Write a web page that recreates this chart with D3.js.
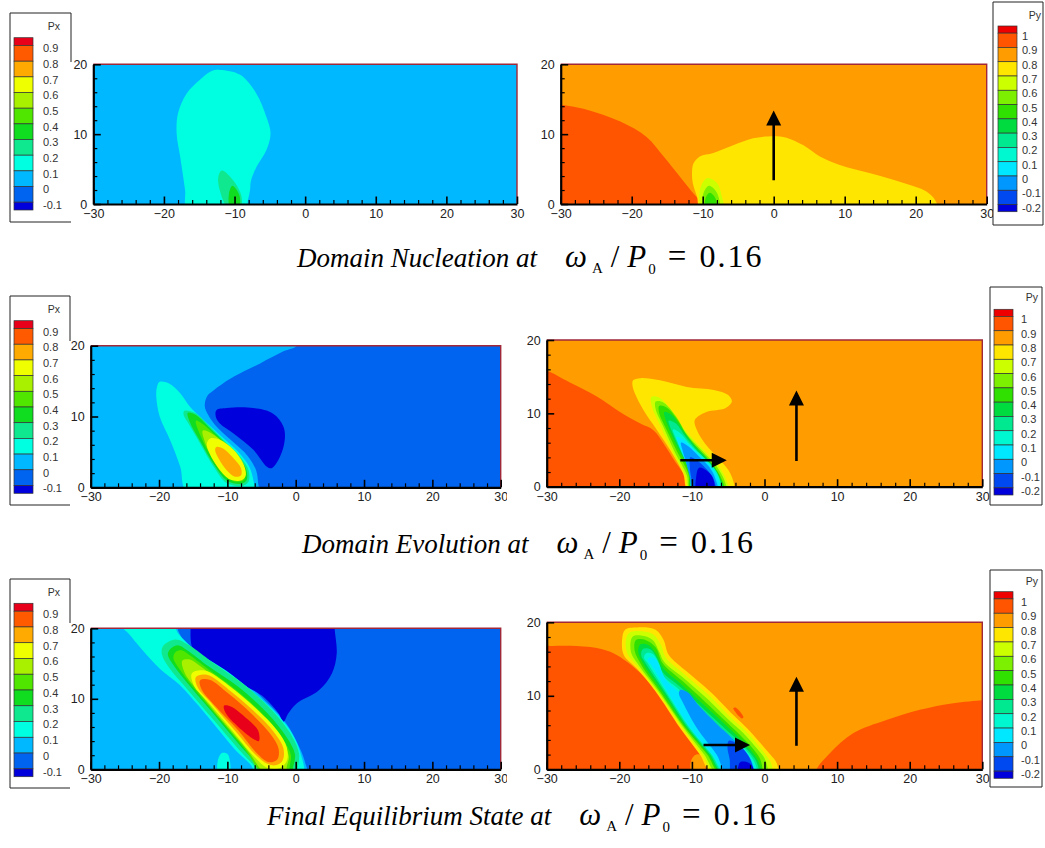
<!DOCTYPE html>
<html>
<head>
<meta charset="utf-8">
<script src="https://cdn.jsdelivr.net/npm/d3@7"></script>
<style>
  body { margin: 0; background: #fff; }
  text { font-family: "Liberation Sans", Arial, sans-serif; }
</style>
</head>
<body>
<svg id="fig" width="1045" height="848"></svg>
<script>
// ---- contour levels and colour tables (read from the two legends) ----
const pxLevels = [-0.1, 0, 0.1, 0.2, 0.3, 0.4, 0.5, 0.6, 0.7, 0.8, 0.9];
const pxColors = ["#0000dc", "#0064f0", "#00b8ff", "#00ffe0", "#10e890", "#10dc20",
                  "#50e600", "#a8f000", "#f0ff00", "#ffaa00", "#ff5a00", "#e8001a"];
const pyLevels = [-0.2, -0.1, 0, 0.1, 0.2, 0.3, 0.4, 0.5, 0.6, 0.7, 0.8, 0.9, 1];
const pyColors = ["#0000dc", "#0048f0", "#0098ff", "#00e8ff", "#00f8d0", "#00e890", "#00dc40",
                  "#30e000", "#7cf000", "#ccff00", "#ffe600", "#ff9c00", "#ff5500", "#ee0000"];

const xTicks = [-30, -20, -10, 0, 10, 20, 30];
const yTicks = [0, 10, 20];

// ---- contour regions: value inside + outline in data units (x, y) ----
// Domain nucleation, Px
const nucPxBase = 0.05;
const nucPxRegions = [
  {v: 0.15, pts: [[-12.1,19.2],[-9.2,18.5],[-6.9,15.8],[-5.5,12.5],[-4.9,10.1],[-5.5,7.7],[-6.9,5.3],[-7.7,3.2],[-7.8,2.0],[-8.1,0.6],[-8.4,-0.6],[-16.7,-0.6],[-17.0,2.0],[-17.7,6.8],[-18.2,10.1],[-18.0,13.0],[-16.8,15.8],[-14.9,17.8],[-13.3,19.0]]},
  {v: 0.25, pts: [[-11.8,4.8],[-10.2,3.4],[-9.0,1.05],[-9.2,-0.6],[-10.9,-0.6],[-12.1,2.0],[-12.3,3.9]]},
  {v: 0.35, pts: [[-10.3,2.6],[-9.3,1.2],[-9.4,-0.5],[-10.6,-0.5],[-10.8,1.4]]}
];
// Domain nucleation, Py
const nucPyBase = 0.85;
const nucPyRegions = [
  {v: 0.95, pts: [[-31,14.3],[-30,14.2],[-26.3,13.5],[-21.6,11.8],[-17.9,9.6],[-15.5,6.8],[-13.2,3.9],[-11.3,1.5],[-10.1,0],[-10,-1],[-31,-1]]},
  {v: 0.75, pts: [[-11.3,5.8],[-10.4,6.8],[-8.5,7.3],[-5.7,8.4],[-2.9,9.4],[0,9.7],[1.8,9.5],[4.2,8.4],[6.5,6.8],[9.3,5.6],[13.6,4.4],[18.3,3.0],[21.5,1.8],[22.7,0.6],[23,-0.8],[-10.2,-0.8],[-10.8,1.05],[-11.4,3.0],[-11.5,4.6]]},
  {v: 0.65, pts: [[-9.4,3.7],[-8.0,3.0],[-7.3,1.05],[-7.1,-0.5],[-10.1,-0.5],[-10.4,2.0]]},
  {v: 0.55, pts: [[-9.1,2.6],[-8.0,1.6],[-7.7,-0.5],[-9.8,-0.5],[-9.9,1.5]]},
  {v: 0.45, pts: [[-9.0,1.6],[-8.2,0.8],[-8.1,-0.5],[-9.6,-0.5],[-9.6,0.8]]}
];
const nucPyArrows = [{from: [0, 3.4], to: [0, 13.4]}];

// Domain evolution, Px
const evoPxBase = -0.05;
const evoPxRegions = [
  {v: 0.05, pts: [[-31,21],[0.15,21],[0.15,20],[-1.8,19.2],[-5.2,17.5],[-9.1,15.6],[-12.0,13.7],[-13.0,12.8],[-13.3,11.4],[-12.8,10.2],[-11.8,8.8],[-9.4,6.6],[-7.0,4.4],[-5.8,2.4],[-5.5,0.6],[-5.5,-1],[-31,-1]]},
  {v: -0.15, pts: [[-11.6,10.9],[-10.1,11.2],[-6.2,11.2],[-3.3,10.4],[-1.8,8.6],[-1.6,6.7],[-2.3,4.3],[-3.5,2.7],[-4.2,2.9],[-6.2,5.3],[-9.1,7.6],[-11.1,9.0],[-11.7,10.0]]},
  {v: 0.15, pts: [[-19.9,14.9],[-18.6,14.7],[-16.9,13.3],[-15.5,11.4],[-13.5,9.5],[-11.1,7.4],[-8.4,5.0],[-6.8,2.9],[-6.2,1.0],[-6.1,-0.6],[-15.9,-0.6],[-16.9,2.9],[-18.4,6.7],[-19.9,10.0],[-20.4,12.8],[-20.3,14.2]]},
  {v: 0.25, pts: [[-16.3,10.8],[-14.7,10.5],[-13.0,9.0],[-10.6,6.7],[-8.1,4.3],[-6.9,2.4],[-6.9,0.8],[-7.9,0.2],[-10.1,0.6],[-12.0,2.9],[-14.0,6.2],[-15.7,9.0],[-16.4,10.2]]},
  {v: 0.35, pts: [[-15.8,10.5],[-14.6,10.2],[-12.9,8.7],[-10.6,6.5],[-8.3,4.2],[-7.2,2.4],[-7.2,1.0],[-8.0,0.5],[-10.0,0.9],[-11.9,3.1],[-13.8,6.2],[-15.4,9.0]]},
  {v: 0.45, pts: [[-14.6,9.4],[-13.4,8.8],[-11.6,7.2],[-9.6,5.6],[-7.9,3.6],[-7.4,2.0],[-7.6,1.0],[-8.8,0.8],[-10.6,1.8],[-12.3,4.2],[-13.9,7.2]]},
  {v: 0.55, pts: [[-13.6,8.0],[-12.3,7.6],[-10.5,6.2],[-8.6,4.3],[-7.6,2.6],[-7.6,1.4],[-8.6,1.0],[-10.3,1.8],[-12.0,3.8],[-13.2,6.2]]},
  {v: 0.65, pts: [[-12.5,6.9],[-11.1,6.7],[-9.1,5.3],[-7.7,3.4],[-7.3,1.7],[-7.9,1.0],[-9.6,1.1],[-11.3,2.7],[-12.6,4.8],[-13.0,6.2]]},
  {v: 0.75, pts: [[-11.6,5.7],[-10.7,5.5],[-9.1,4.1],[-8.0,2.7],[-8.0,1.7],[-8.9,1.5],[-10.1,2.4],[-11.3,4.1],[-11.8,5.3]]}
];
// Domain evolution, Py
const evoPyBase = 0.85;
const evoPyRegions = [
  {v: 0.95, pts: [[-31,15.9],[-30,15.8],[-26.8,14.2],[-23.1,12.3],[-19.9,10.2],[-17.1,8.6],[-15.3,7.7],[-13.9,5.9],[-12.3,3.4],[-10.9,1.4],[-10.3,0],[-10.2,-1],[-31,-1]]},
  {v: 0.75, pts: [[-18.1,14.5],[-17.1,14.8],[-14.4,14.5],[-10.7,13.6],[-7.0,13.2],[-5.0,12.5],[-4.5,11.6],[-5.4,10.7],[-8.0,10.2],[-9.6,9.1],[-9.3,7.7],[-8.2,5.9],[-6.1,3.6],[-4.7,1.8],[-4.3,-0.6],[-10.5,-0.6],[-11.2,1.8],[-13.0,5.0],[-14.8,7.7],[-16.7,10.5],[-17.8,12.6],[-18.2,13.9]]},
  {v: 0.65, pts: [[-15.6,12.2],[-14.6,12.2],[-12.6,10.2],[-11.0,7.8],[-8.6,5.2],[-6.4,2.9],[-5.2,0.8],[-5.0,-0.6],[-10.3,-0.6],[-10.9,1.5],[-12.6,4.6],[-14.3,8.2],[-15.5,10.9]]},
  {v: 0.55, pts: [[-15.0,11.6],[-14.0,11.5],[-12.2,9.6],[-10.8,7.3],[-8.6,4.9],[-6.6,2.8],[-5.5,0.8],[-5.3,-0.6],[-10.2,-0.6],[-10.7,1.6],[-12.4,4.8],[-14.0,8.3],[-15.0,10.6]]},
  {v: 0.45, pts: [[-14.5,11.0],[-13.5,10.8],[-11.9,9.0],[-10.6,6.8],[-8.5,4.5],[-6.8,2.6],[-5.8,0.8],[-5.5,-0.6],[-10.1,-0.6],[-10.5,1.8],[-12.1,4.9],[-13.6,8.0],[-14.5,10.0]]},
  {v: 0.35, pts: [[-13.8,10.2],[-12.8,9.8],[-11.3,7.8],[-9.6,5.6],[-7.6,3.5],[-6.3,1.6],[-5.7,-0.6],[-10.0,-0.6],[-10.3,2.0],[-11.8,5.0],[-13.2,8.0]]},
  {v: 0.25, pts: [[-13.2,9.0],[-12.2,8.6],[-10.8,6.7],[-9.0,4.6],[-7.4,2.9],[-6.4,1.2],[-5.85,-0.6],[-9.95,-0.6],[-10.2,2.0],[-11.4,4.6],[-12.6,7.2]]},
  {v: 0.15, pts: [[-12.6,7.8],[-11.6,7.3],[-10.1,5.6],[-8.3,3.9],[-6.8,2.3],[-6.1,0.8],[-6.0,-0.6],[-9.9,-0.6],[-10.2,1.8],[-11.2,4.3],[-12.1,6.4]]},
  {v: 0.05, pts: [[-12.1,6.8],[-11.1,6.4],[-9.6,4.9],[-7.8,3.2],[-6.6,1.6],[-6.2,-0.6],[-9.85,-0.6],[-10.2,1.6],[-11.0,3.8],[-11.8,5.7]]},
  {v: -0.05, pts: [[-11.5,6.0],[-10.5,5.5],[-9.1,4.2],[-7.6,2.7],[-6.8,1.2],[-6.5,-0.6],[-9.8,-0.6],[-10.3,1.4],[-10.8,3.3],[-11.3,5.0]]},
  {v: -0.15, pts: [[-10.2,4.0],[-9.2,3.5],[-7.9,2.3],[-7.0,1.0],[-6.8,-0.6],[-9.6,-0.6],[-10.1,1.3],[-10.3,2.8]]},
  {v: -0.25, pts: [[-9.0,2.6],[-8.0,2.2],[-7.1,1.2],[-7.0,-0.6],[-9.3,-0.6],[-9.4,1.4]]}
];
const evoPyArrows = [{from: [4.4, 3.5], to: [4.4, 13.1]}, {from: [-11.6, 3.6], to: [-5.2, 3.6]}];

// Final equilibrium, Px
const finPxBase = -0.05;
const finPxRegions = [
  {v: 0.05, pts: [[-31,21],[-17.3,21],[-17.3,20],[-16.6,18.6],[-14.5,16.7],[-10.7,14.5],[-6.9,11.9],[-3.7,9.0],[-1.3,6.4],[0.3,3.6],[1.3,1.2],[1.5,-1],[-31,-1]]},
  {v: -0.15, pts: [[-15.4,21],[-15.4,20],[-15.2,17.4],[-14.0,15.5],[-11.2,14.0],[-7.9,12.1],[-4.6,10.2],[-2.5,7.9],[-1.8,6.7],[-1.1,7.9],[0.1,9.3],[3.4,11.2],[5.3,13.6],[6.0,16.4],[5.7,20],[5.7,21]]},
  {v: 0.15, pts: [[-25.2,21],[-17.5,21],[-17.5,19.8],[-16.3,18.3],[-14.0,16.4],[-10.2,14.0],[-6.5,11.2],[-3.2,8.3],[-0.8,5.5],[0.6,2.6],[1.0,-1],[-6.3,-1],[-6.3,0.2],[-8.8,2.7],[-11.3,5.6],[-14.2,9.0],[-17.0,12.0],[-19.8,14.2],[-22.5,17.0],[-24.5,19.3],[-25.2,20]]},
  {v: 0.15, pts: [[-11.3,-0.5],[-11.4,1.2],[-10.8,2.3],[-10.0,2.2],[-9.6,1.0],[-9.7,-0.5]]},
  {v: 0.25, pts: [[-19.4,17.5],[-17.6,18.4],[-15.6,17.6],[-12.2,15.2],[-7.8,12.2],[-3.5,8.4],[-0.6,4.8],[0.5,2.2],[0.3,0.2],[0.2,-0.8],[-5.8,-0.8],[-5.8,0],[-8.5,3.0],[-12.2,7.2],[-16.0,11.5],[-18.6,14.5],[-19.6,16.4]]},
  {v: 0.35, pts: [[-18.5,16.9],[-17.3,17.6],[-15.9,16.9],[-12.6,14.5],[-8.4,11.7],[-4.1,7.9],[-1.3,4.5],[-0.1,2.1],[-0.4,0.2],[-0.6,-0.8],[-5.1,-0.8],[-5.1,0],[-7.9,3.1],[-11.6,7.4],[-15.4,11.7],[-17.7,14.5],[-18.7,16.2]]},
  {v: 0.45, pts: [[-17.6,16.6],[-16.7,16.9],[-15.4,16.1],[-12.4,13.9],[-8.4,11.0],[-4.4,7.4],[-1.8,4.2],[-0.7,2.0],[-0.9,0.3],[-1.0,-0.8],[-4.6,-0.8],[-7.4,2.8],[-11.0,7.0],[-14.8,11.4],[-17.0,14.2],[-17.9,15.8]]},
  {v: 0.55, pts: [[-16.6,15.4],[-15.6,15.6],[-14.2,14.8],[-11.5,12.8],[-7.8,10.0],[-4.2,6.7],[-1.8,3.6],[-1.0,1.8],[-1.3,0.4],[-1.5,-0.8],[-4.2,-0.8],[-7.0,2.6],[-10.6,6.7],[-14.2,11.0],[-16.2,13.6]]},
  {v: 0.65, pts: [[-15.2,13.6],[-13.3,14.0],[-9.8,11.9],[-6.0,8.8],[-2.7,5.5],[-1.3,3.1],[-1.3,1.2],[-2.3,0.2],[-4.1,0.2],[-6.0,1.7],[-9.3,5.5],[-12.6,9.3],[-14.9,11.9]]},
  {v: 0.75, pts: [[-14.6,13.1],[-13.0,13.4],[-9.8,11.3],[-6.3,8.4],[-3.2,5.3],[-1.8,3.0],[-1.9,1.3],[-2.8,0.6],[-4.0,0.7],[-5.8,2.0],[-8.9,5.5],[-12.1,9.1],[-14.4,11.7]]},
  {v: 0.85, pts: [[-14.0,12.6],[-12.6,12.7],[-9.8,10.7],[-6.5,7.9],[-3.7,5.0],[-2.5,2.9],[-2.7,1.4],[-3.9,1.0],[-5.5,2.1],[-8.4,5.5],[-11.6,8.8],[-13.8,11.4]]},
  {v: 0.95, pts: [[-10.5,9.0],[-9.5,8.9],[-7.4,7.4],[-5.5,5.5],[-5.4,4.0],[-6.2,4.3],[-8.4,6.0],[-10.2,7.9]]}
];
// Final equilibrium, Py
const finPyBase = 0.85;
const finPyRegions = [
  {v: 0.95, pts: [[-31,16.9],[-30,16.8],[-26.8,16.8],[-23.1,16.5],[-20.8,15.8],[-18.9,14.6],[-17.1,13.1],[-14.8,10.6],[-12.5,7.4],[-10.2,4.2],[-8.4,2.0],[-7.5,0],[-7.4,-1],[-31,-1]]},
  {v: 0.95, pts: [[7.2,-1],[7.2,0],[9.0,2.2],[12.2,4.9],[16.8,6.7],[21.4,8.1],[26.0,9.0],[30,9.4],[31,9.5],[31,-1]]},
  {v: 0.85, pts: [[-10.0,-0.5],[-10.1,1.2],[-9.4,2.0],[-8.5,1.8],[-8.2,0.6],[-8.2,-0.5]]},
  {v: 0.95, pts: [[-4.3,8.3],[-4.0,8.4],[-2.9,7.1],[-3.1,6.9]]},
  {v: 0.75, pts: [[-19.2,19.0],[-17.6,19.3],[-15.0,19.0],[-13.9,17.6],[-13.2,15.6],[-10.7,13.3],[-7.5,10.6],[-4.3,7.4],[-2.4,5.6],[-0.6,3.6],[0.8,2.0],[1.7,0.8],[1.8,-0.6],[-7.2,-0.6],[-8.9,2.0],[-11.6,5.6],[-15.0,10.6],[-17.6,13.7],[-19.4,15.6],[-19.6,17.8]]},
  {v: 0.65, pts: [[-18.7,18.5],[-17.4,18.8],[-15.4,18.4],[-14.3,17.0],[-13.6,15.2],[-11.0,12.9],[-7.8,10.2],[-4.6,7.0],[-2.7,5.3],[-0.9,3.3],[0.3,1.8],[1.0,0.6],[1.0,-0.6],[-6.8,-0.6],[-8.6,2.0],[-11.3,5.6],[-14.8,10.6],[-17.4,13.9],[-18.9,15.8],[-19.1,17.5]]},
  {v: 0.55, pts: [[-18.2,18.0],[-17.0,18.2],[-15.4,17.6],[-14.5,16.0],[-13.8,14.6],[-11.1,12.4],[-8.0,9.7],[-4.8,6.6],[-3.0,5.0],[-1.1,2.9],[0.0,1.5],[0.4,0.3],[0.4,-0.6],[-6.5,-0.6],[-8.3,2.0],[-11.1,5.6],[-14.6,10.6],[-17.2,14.0],[-18.4,16.0]]},
  {v: 0.45, pts: [[-17.7,17.6],[-16.4,17.6],[-15.0,16.6],[-14.0,14.4],[-11.3,12.0],[-8.2,9.2],[-5.0,6.2],[-3.3,4.6],[-1.5,2.7],[-0.6,1.4],[-0.3,0.2],[-0.3,-0.6],[-6.1,-0.6],[-7.9,2.0],[-10.9,5.6],[-14.4,10.6],[-16.9,14.1],[-17.9,16.2]]},
  {v: 0.35, pts: [[-17.1,17.0],[-16.0,16.9],[-14.8,15.5],[-14.0,13.8],[-11.5,11.6],[-8.4,8.8],[-5.2,5.9],[-3.5,4.3],[-1.8,2.5],[-0.9,1.2],[-0.6,-0.6],[-5.9,-0.6],[-7.7,2.0],[-10.7,5.6],[-14.1,10.6],[-16.6,14.2],[-17.4,16.0]]},
  {v: 0.25, pts: [[-16.7,16.4],[-15.7,16.3],[-14.7,14.9],[-14.0,13.2],[-11.6,11.2],[-8.6,8.4],[-5.4,5.5],[-3.7,4.0],[-2.0,2.3],[-1.1,1.0],[-0.9,-0.6],[-5.7,-0.6],[-7.5,2.0],[-10.5,5.6],[-13.8,10.6],[-16.3,14.3],[-17.0,15.6]]},
  {v: 0.15, pts: [[-16.3,15.8],[-15.4,15.7],[-14.5,14.3],[-13.9,12.7],[-11.7,10.8],[-8.8,8.0],[-5.6,5.2],[-3.9,3.8],[-2.2,2.2],[-1.3,0.8],[-1.1,-0.6],[-5.5,-0.6],[-7.3,2.0],[-10.3,5.6],[-13.6,10.6],[-16.0,14.3],[-16.6,15.2]]},
  {v: 0.05, pts: [[-15.9,15.2],[-15.0,15.0],[-14.3,13.6],[-13.6,12.2],[-11.7,10.4],[-8.9,7.6],[-5.8,4.9],[-4.0,3.6],[-2.4,2.0],[-1.5,0.6],[-1.3,-0.6],[-5.3,-0.6],[-7.2,2.0],[-10.2,5.6],[-13.4,10.6],[-15.6,14.2],[-16.1,14.8]]},
  {v: -0.05, pts: [[-11.6,10.8],[-10.6,10.5],[-9.0,8.6],[-6.6,6.2],[-4.5,4.3],[-2.6,2.4],[-1.7,0.9],[-1.6,-0.6],[-5.2,-0.6],[-6.6,2.0],[-9.3,5.6],[-11.2,9.0],[-11.8,10.3]]},
  {v: -0.15, pts: [[-4.9,3.9],[-3.4,3.2],[-2.2,1.8],[-1.7,0.6],[-1.7,-0.6],[-4.5,-0.6],[-4.8,1.4],[-5.1,3.0]]},
  {v: -0.25, pts: [[-3.3,1.0],[-2.2,0.9],[-1.6,0.3],[-1.6,-0.6],[-3.6,-0.6],[-3.6,0.4]]}
];
const finPyArrows = [{from: [4.4, 3.2], to: [4.4, 12.6]}, {from: [-8.4, 3.3], to: [-2.0, 3.3]}];

const captionTitles = ["Domain Nucleation at", "Domain Evolution at", "Final Equilibrium State at"];
const captionValue = "0.16";

// ---- layout ----
const svg = d3.select("#fig");
const pxColor = d3.scaleThreshold().domain(pxLevels).range(pxColors);
const pyColor = d3.scaleThreshold().domain(pyLevels).range(pyColors);

const panels = [
  {id: "p1", field: "Px", base: nucPxBase, regions: nucPxRegions, arrows: [], box: [93.3, 517, 64.3, 204]},
  {id: "p2", field: "Py", base: nucPyBase, regions: nucPyRegions, arrows: nucPyArrows, box: [560.7, 986.7, 64.3, 204]},
  {id: "p3", field: "Px", base: evoPxBase, regions: evoPxRegions, arrows: [], box: [90.7, 500.7, 345.7, 487.3]},
  {id: "p4", field: "Py", base: evoPyBase, regions: evoPyRegions, arrows: evoPyArrows, box: [546.7, 982.3, 340, 486.7], mask: 507},
  {id: "p5", field: "Px", base: finPxBase, regions: finPxRegions, arrows: [], box: [90.7, 500.7, 628.3, 769.3]},
  {id: "p6", field: "Py", base: finPyBase, regions: finPyRegions, arrows: finPyArrows, box: [546.7, 982.3, 622.3, 769.3], mask: 507}
];

const defs = svg.append("defs");

function drawPanel(p) {
  const [x0, x1, y0, y1] = p.box;
  const x = d3.scaleLinear().domain([-30, 30]).range([x0, x1]);
  const y = d3.scaleLinear().domain([0, 20]).range([y1, y0]);
  const color = p.field === "Px" ? pxColor : pyColor;

  if (p.mask) {
    // white backing of the right-hand image, it hides the neighbour's "30"
    svg.append("rect").attr("x", p.mask).attr("y", y0 - 12)
      .attr("width", 990 - p.mask).attr("height", y1 - y0 + 32).attr("fill", "#fff");
  }

  defs.append("clipPath").attr("id", "clip-" + p.id)
    .append("rect").attr("x", x0).attr("y", y0).attr("width", x1 - x0).attr("height", y1 - y0);

  const g = svg.append("g");
  const field = g.append("g").attr("clip-path", `url(#clip-${p.id})`);
  field.append("rect").attr("x", x0).attr("y", y0).attr("width", x1 - x0).attr("height", y1 - y0)
    .attr("fill", color(p.base));

  const line = d3.line().x(d => x(d[0])).y(d => y(d[1]))
    .curve(d3.curveCatmullRomClosed.alpha(0.5));
  field.selectAll("path.region").data(p.regions).enter().append("path")
    .attr("class", "region")
    .attr("d", d => line(d.pts))
    .attr("fill", d => color(d.v));

  // top / right frame
  g.append("path").attr("d", `M${x0},${y0}H${x1}V${y1}`)
    .attr("fill", "none").attr("stroke", "#a02838").attr("stroke-width", 1.4);

  // minor ticks
  const xMinor = x.ticks(30).filter(t => xTicks.indexOf(t) < 0);
  const yMinor = y.ticks(10).filter(t => yTicks.indexOf(t) < 0);
  g.append("g").attr("transform", `translate(0,${y1})`)
    .call(d3.axisBottom(x).tickValues(xMinor).tickSize(-4).tickSizeOuter(0).tickFormat(""))
    .call(a => a.select(".domain").remove())
    .selectAll("line").attr("stroke", "#000").attr("stroke-width", 1.2);
  g.append("g").attr("transform", `translate(${x0},0)`)
    .call(d3.axisLeft(y).tickValues(yMinor).tickSize(-4).tickSizeOuter(0).tickFormat(""))
    .call(a => a.select(".domain").remove())
    .selectAll("line").attr("stroke", "#000").attr("stroke-width", 1.2);

  // major axes
  const xa = g.append("g").attr("transform", `translate(0,${y1})`)
    .call(d3.axisBottom(x).tickValues(xTicks).tickSize(-7.5).tickSizeOuter(0).tickPadding(5));
  const ya = g.append("g").attr("transform", `translate(${x0},0)`)
    .call(d3.axisLeft(y).tickValues(yTicks).tickSize(-7.5).tickSizeOuter(0).tickPadding(6));
  [xa, ya].forEach(a => {
    a.select(".domain").attr("stroke", "#000").attr("stroke-width", 2.2);
    a.selectAll(".tick line").attr("stroke", "#000").attr("stroke-width", 1.6);
    a.selectAll("text").attr("font-family", '"Liberation Sans", Arial, sans-serif')
      .attr("font-size", 12.5).attr("fill", "#222");
  });
  ya.selectAll("text").attr("dy", "0.32em");

  // arrows
  p.arrows.forEach(ar => {
    const ax0 = x(ar.from[0]), ay0 = y(ar.from[1]);
    const ax1 = x(ar.to[0]), ay1 = y(ar.to[1]);
    const len = Math.hypot(ax1 - ax0, ay1 - ay0);
    const ux = (ax1 - ax0) / len, uy = (ay1 - ay0) / len;
    const head = 15, half = 7.5;
    const bx = ax1 - ux * head, by = ay1 - uy * head;
    g.append("line").attr("x1", ax0).attr("y1", ay0).attr("x2", bx + ux).attr("y2", by + uy)
      .attr("stroke", "#000").attr("stroke-width", 2.6);
    g.append("path")
      .attr("d", `M${ax1},${ay1}L${bx - uy * half},${by + ux * half}L${bx + uy * half},${by - ux * half}Z`)
      .attr("fill", "#000");
  });
}

panels.forEach(drawPanel);

// ---- legends ----
const legends = [
  {title: "Px", levels: pxLevels, color: pxColors, box: [10, 13, 61, 209], hideRightFrom: 62, sw: [14, 19, 37.7, 210], titleAt: [60, 26], labelX: 43},
  {title: "Px", levels: pxLevels, color: pxColors, box: [10, 296, 60, 209], hideRightFrom: 341, sw: [14, 19, 320.7, 493.3], titleAt: [60, 309], labelX: 43},
  {title: "Px", levels: pxLevels, color: pxColors, box: [10, 579, 60, 209], hideRightFrom: 623, sw: [14, 19, 603.3, 776.7], titleAt: [60, 592.7], labelX: 43},
  {title: "Py", levels: pyLevels, color: pyColors, box: [993, 2, 50, 223], sw: [998, 19, 26, 211.7], titleAt: [1041, 15], labelX: 1022},
  {title: "Py", levels: pyLevels, color: pyColors, box: [990, 287, 52, 218], sw: [994, 19, 309.3, 495], titleAt: [1038, 297.3], labelX: 1021},
  {title: "Py", levels: pyLevels, color: pyColors, box: [990, 570, 52, 217], sw: [994, 19, 591.7, 778.3], titleAt: [1038, 581.7], labelX: 1021}
];

legends.forEach(L => {
  const [bx, by, bw, bh] = L.box;
  const g = svg.append("g");
  g.append("rect").attr("x", bx).attr("y", by).attr("width", bw).attr("height", bh).attr("fill", "#fff");
  const frame = L.hideRightFrom
    ? `M${bx + bw},${L.hideRightFrom}V${by}H${bx}V${by + bh}H${bx + bw}`
    : `M${bx},${by}H${bx + bw}V${by + bh}H${bx}Z`;
  g.append("path").attr("d", frame).attr("fill", "none").attr("stroke", "#222").attr("stroke-width", 1);

  const [sx, sw, top, bottom] = L.sw;
  const n = L.levels.length;
  const u = (bottom - top) / n;
  const cols = L.color.slice().reverse();
  const cells = cols.map((c, i) => {
    const y0 = i === 0 ? top : top + u / 2 + (i - 1) * u;
    const y1 = i === n ? bottom : top + u / 2 + i * u;
    return {c, y0, y1};
  });
  g.selectAll("rect.sw").data(cells).enter().append("rect").attr("class", "sw")
    .attr("x", sx).attr("width", sw)
    .attr("y", d => d.y0).attr("height", d => d.y1 - d.y0)
    .attr("fill", d => d.c).attr("stroke", "#333").attr("stroke-width", 0.7);

  const labels = L.levels.slice().reverse();
  g.selectAll("text.lv").data(labels).enter().append("text").attr("class", "lv")
    .attr("x", L.labelX).attr("y", (d, i) => top + u / 2 + i * u + 3)
    .attr("dy", "0.36em").attr("font-size", 11).attr("fill", "#333")
    .text(d => String(d));
  g.append("text").attr("x", L.titleAt[0]).attr("y", L.titleAt[1]).attr("dy", "0.36em")
    .attr("text-anchor", "end").attr("font-size", 10.5).attr("fill", "#333").text(L.title);
});

// ---- captions ----
const captionPos = [[297, 267], [302, 553], [267, 825]];
captionTitles.forEach((t, i) => {
  const txt = svg.append("text").attr("x", captionPos[i][0]).attr("y", captionPos[i][1])
    .style("font-family", '"Liberation Serif", "Times New Roman", serif')
    .attr("font-size", 27).attr("fill", "#000");
  txt.append("tspan").attr("font-style", "italic").text(t);
  txt.append("tspan").attr("dx", 28).attr("font-size", 31).attr("font-style", "italic").text("ω");
  txt.append("tspan").attr("font-size", 15).attr("dy", 6).attr("dx", 5).text("A");
  txt.append("tspan").attr("font-size", 31).attr("dy", -6).attr("dx", 8).text("/");
  txt.append("tspan").attr("font-size", 31).attr("dx", 8).attr("font-style", "italic").text("P");
  txt.append("tspan").attr("font-size", 15).attr("dy", 7).attr("dx", 2).text("0");
  txt.append("tspan").attr("font-size", 33).attr("dy", -7).attr("dx", 12).text("=");
  txt.append("tspan").attr("font-size", 32).attr("dx", 13).attr("letter-spacing", 2).text(captionValue);
});
</script>
</body>
</html>
